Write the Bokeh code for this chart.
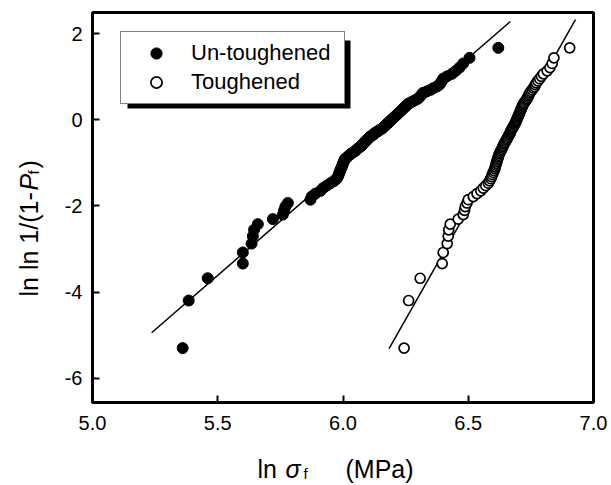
import math
from bokeh.plotting import figure
from bokeh.models import (Range1d, FixedTicker, PrintfTickFormatter, Legend,
                          LegendItem, Label, BoxAnnotation)
from bokeh.embed import file_html
from bokeh.resources import INLINE

# ---------------- data ----------------
# ln ln 1/(1-Pf) for the ranked specimens (shared by both series)
y_rank = [
    -5.296, -4.192, -3.676, -3.335, -3.078, -2.872, -2.700, -2.552, -2.421, -2.304,
    -2.199, -2.102, -2.013, -1.931, -1.854, -1.781, -1.713, -1.648, -1.587, -1.528,
    -1.472, -1.418, -1.367, -1.317, -1.269, -1.223, -1.178, -1.134, -1.092, -1.051,
    -1.011, -0.972, -0.934, -0.897, -0.860, -0.824, -0.789, -0.755, -0.721, -0.688,
    -0.655, -0.623, -0.592, -0.561, -0.530, -0.499, -0.469, -0.440, -0.410, -0.381,
    -0.352, -0.323, -0.295, -0.267, -0.239, -0.211, -0.183, -0.156, -0.128, -0.101,
    -0.074, -0.047, -0.019, 0.008, 0.035, 0.062, 0.090, 0.117, 0.144, 0.172,
    0.200, 0.227, 0.255, 0.284, 0.312, 0.341, 0.370, 0.400, 0.430, 0.460,
    0.491, 0.523, 0.556, 0.589, 0.623, 0.658, 0.694, 0.732, 0.771, 0.813,
    0.856, 0.902, 0.952, 1.006, 1.065, 1.132, 1.210, 1.305, 1.435, 1.667,
]

# ln sigma_f, un-toughened glass
x_untoughened = [
    5.360, 5.384, 5.460, 5.600, 5.600, 5.635, 5.640, 5.645, 5.660, 5.720,
    5.760, 5.765, 5.770, 5.780, 5.870, 5.875, 5.890, 5.910, 5.920, 5.935,
    5.950, 5.965, 5.975, 5.980, 5.983, 5.986, 5.989, 5.992, 5.995, 5.998,
    6.000, 6.003, 6.006, 6.010, 6.018, 6.025, 6.032, 6.040, 6.050, 6.055,
    6.062, 6.070, 6.075, 6.080, 6.085, 6.090, 6.095, 6.100, 6.105, 6.110,
    6.120, 6.125, 6.130, 6.140, 6.145, 6.155, 6.160, 6.165, 6.170, 6.175,
    6.180, 6.185, 6.190, 6.195, 6.200, 6.205, 6.210, 6.215, 6.220, 6.225,
    6.230, 6.235, 6.240, 6.245, 6.250, 6.255, 6.260, 6.270, 6.280, 6.290,
    6.300, 6.305, 6.310, 6.315, 6.320, 6.335, 6.350, 6.360, 6.375, 6.385,
    6.390, 6.395, 6.400, 6.415, 6.435, 6.450, 6.465, 6.480, 6.505, 6.620,
]

# ln sigma_f, toughened glass
x_toughened = [
    6.244, 6.262, 6.308, 6.396, 6.400, 6.416, 6.420, 6.422, 6.428, 6.460,
    6.480, 6.485, 6.488, 6.495, 6.500, 6.520, 6.535, 6.550, 6.560, 6.570,
    6.580, 6.585, 6.590, 6.593, 6.596, 6.600, 6.603, 6.606, 6.608, 6.610,
    6.612, 6.614, 6.616, 6.618, 6.620, 6.622, 6.624, 6.627, 6.630, 6.633,
    6.636, 6.638, 6.640, 6.643, 6.646, 6.650, 6.652, 6.655, 6.658, 6.660,
    6.663, 6.666, 6.668, 6.670, 6.672, 6.675, 6.678, 6.680, 6.683, 6.686,
    6.688, 6.690, 6.692, 6.694, 6.696, 6.698, 6.700, 6.702, 6.704, 6.706,
    6.708, 6.710, 6.712, 6.714, 6.716, 6.718, 6.720, 6.724, 6.728, 6.732,
    6.735, 6.738, 6.740, 6.743, 6.746, 6.750, 6.755, 6.760, 6.765, 6.768,
    6.772, 6.778, 6.785, 6.792, 6.800, 6.815, 6.826, 6.835, 6.842, 6.905,
]

# Weibull fit lines: y = m * (x - ln sigma_0), drawn between x limits
fit_untoughened = {"m": 5.04, "x0": 6.216, "xmin": 5.236, "xmax": 6.668}
fit_toughened = {"m": 10.26, "x0": 6.7015, "xmin": 6.184, "xmax": 6.928}

x_ticks = [5.0, 5.5, 6.0, 6.5, 7.0]
y_ticks = [-6, -4, -2, 0, 2]
series_names = ["Un-toughened", "Toughened"]

# ---------------- layout ----------------
W, H = 611, 485
FL, FR, FT, FB = 92, 593, 12, 402          # plotting box in canvas pixels
X0, X1 = 5.0, 7.0                          # axis limits of the box
Y0, Y1 = -6.557, 2.487
FONT = "Liberation Sans"


def dx(px):
    return X0 + (px - FL) * (X1 - X0) / (FR - FL)


def dy(py):
    return Y1 - (py - FT) * (Y1 - Y0) / (FB - FT)


# the frame covers the whole canvas; axes sit at fixed locations on the box
p = figure(width=W, height=H, output_backend="svg", toolbar_location=None,
           x_range=Range1d(dx(0), dx(W)), y_range=Range1d(dy(H), dy(0)),
           min_border=0)
p.background_fill_color = "white"
p.border_fill_color = "white"
p.xgrid.visible = False
p.ygrid.visible = False
p.outline_line_color = None

for ax in (p.xaxis[0], p.yaxis[0]):
    ax.axis_line_color = None
    ax.major_tick_in = 7
    ax.major_tick_out = 0
    ax.major_tick_line_width = 2
    ax.major_tick_line_color = "black"
    ax.minor_tick_line_color = None
    ax.major_label_text_font = FONT
    ax.major_label_text_font_size = "20px"
    ax.major_label_text_color = "black"

p.xaxis[0].fixed_location = Y0
p.xaxis[0].ticker = FixedTicker(ticks=x_ticks)
p.xaxis[0].formatter = PrintfTickFormatter(format="%.1f")
p.xaxis[0].major_label_standoff = 13
p.yaxis[0].fixed_location = X0
p.yaxis[0].ticker = FixedTicker(ticks=y_ticks)
p.yaxis[0].formatter = PrintfTickFormatter(format="%d")
p.yaxis[0].major_label_standoff = 10

# box around the plotting area
p.quad(left=[X0], right=[X1], bottom=[Y0], top=[Y1], fill_color=None,
       line_color="black", line_width=3)

# fit lines
for f in (fit_untoughened, fit_toughened):
    xs = [f["xmin"], f["xmax"]]
    ys = [f["m"] * (x - f["x0"]) for x in xs]
    p.line(xs, ys, line_color="black", line_width=1.5)

r_u = p.scatter(x_untoughened, y_rank, size=11, marker="circle",
                fill_color="black", line_color="black", line_width=1)
r_t = p.scatter(x_toughened, y_rank, size=10, marker="circle",
                fill_color="white", line_color="black", line_width=1.7)

# legend with drop shadow
shadow = BoxAnnotation(left=dx(127), right=dx(350), top=dy(40), bottom=dy(108),
                       fill_color="black", fill_alpha=1.0, line_color=None)
p.add_layout(shadow)

legend = Legend(items=[LegendItem(label=series_names[0], renderers=[r_u]),
                       LegendItem(label=series_names[1], renderers=[r_t])],
                location=(120, H - 104), margin=0, padding=7, spacing=1,
                glyph_width=56, glyph_height=28, label_height=28, label_width=146,
                label_standoff=7, label_text_font=FONT, label_text_font_size="22px",
                label_text_color="black", border_line_color="black",
                border_line_width=1.5, background_fill_color="white",
                background_fill_alpha=1.0)
p.add_layout(legend, "center")

# axis titles assembled from pieces (subscripts / italics)
TS = 25
xb = 468
x_pieces = [
    ("ln", 257, xb, TS, "normal"),
    ("\u03c3", 285, xb, TS, "italic"),
    ("f", 303, xb + 5, 15, "normal"),
    ("(MPa)", 345, xb, TS, "normal"),
]
for t, px, py, fs, st in x_pieces:
    p.add_layout(Label(x=dx(px), y=dy(py), text=t, text_font=FONT,
                       text_font_size=f"{fs}px", text_font_style=st,
                       text_color="black", text_align="left",
                       text_baseline="alphabetic"))

yb = 28
ys0 = 296
y_pieces = [
    ("ln ln 1/(1-", yb, ys0, TS, "normal"),
    ("P", yb, ys0 - 106, TS, "italic"),
    ("f", yb + 5, ys0 - 122, 15, "normal"),
    (")", yb, ys0 - 128, TS, "normal"),
]
for t, px, py, fs, st in y_pieces:
    p.add_layout(Label(x=dx(px), y=dy(py), text=t, text_font=FONT,
                       text_font_size=f"{fs}px", text_font_style=st,
                       text_color="black", text_align="left",
                       text_baseline="alphabetic", angle=math.pi / 2))

open("out.html", "w").write(file_html(p, INLINE))
